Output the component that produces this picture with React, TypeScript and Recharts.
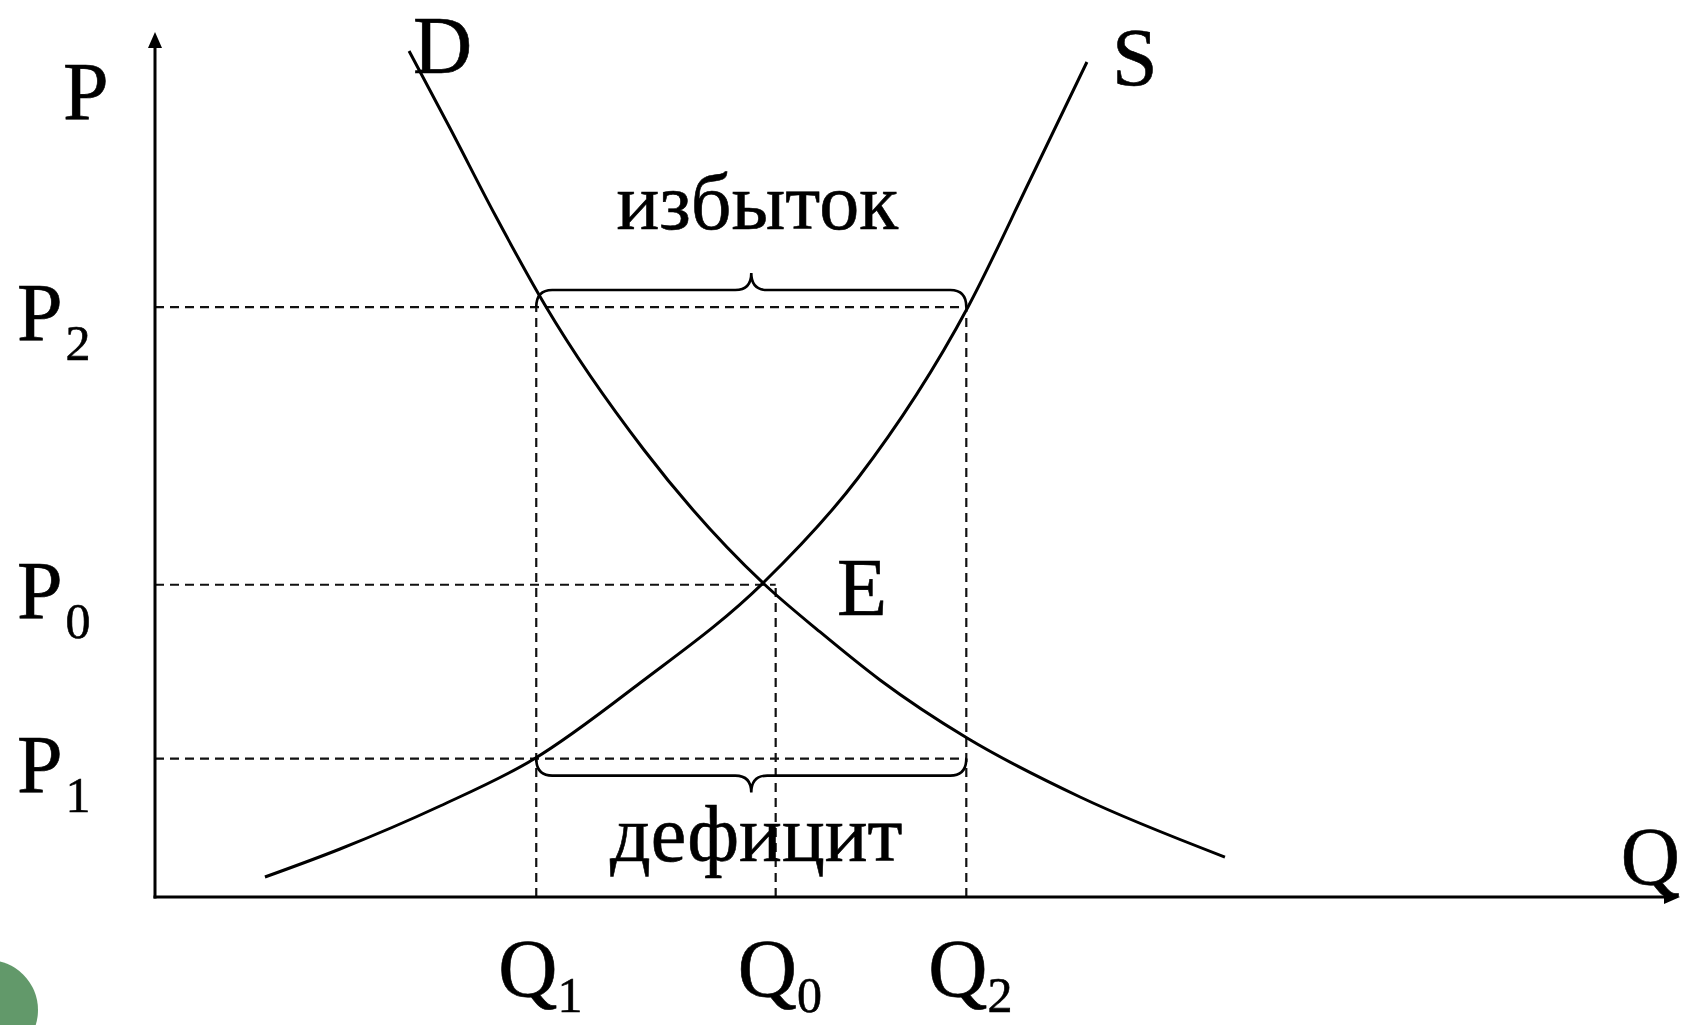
import React from 'react';
import { ComposedChart, Line, XAxis, YAxis, ReferenceLine, ReferenceDot } from 'recharts';

// Demand curve D (quantity, price)
const demandQ = [16.66, 19.34, 22.3, 25.57, 32.07, 39.87, 43.61, 47.54, 53.25, 60.66, 70.16];
const demandP = [97.8, 88.9, 78.84, 68.44, 51.68, 36.3, 30.64, 25.09, 18.38, 11.56, 4.62];

// Supply curve S (quantity, price)
const supplyQ = [7.21, 12.13, 18.69, 24.85, 31.8, 39.87, 46.1, 53.31, 57.38, 61.11];
const supplyP = [2.31, 5.55, 10.52, 15.95, 24.74, 36.3, 48.44, 68.21, 82.89, 96.53];

// Axis marks
const qTicks = [25, 40.7, 53.2]; // Q1, Q0, Q2
const qTickSubs = ['1', '0', '2'];
const pTicks = [16, 36.1, 68.2]; // P1, P0, P2
const pTickSubs = ['1', '0', '2'];

const [Q1, Q0, Q2] = qTicks;
const [P1, P0, P2] = pTicks;

const demandData = demandQ.map((q, i) => ({ q, p: demandP[i] }));
const supplyData = supplyQ.map((q, i) => ({ q, p: supplyP[i] }));

const FONT = '"Liberation Serif", "Times New Roman", serif';
const BIG = 82;
const SUB = 50;
const TXT_STROKE = 0.6;

const PTick = (props: any) => {
  const { x, y, payload, index } = props;
  let i = pTicks.indexOf(payload.value);
  if (i < 0) i = index;
  return (
    <text x={x - 138} y={y + 33} fontFamily={FONT} fontSize={BIG} fill="#000" stroke="#000" strokeWidth={TXT_STROKE}>
      P
      <tspan dx={3} dy={20} fontSize={SUB}>{pTickSubs[i]}</tspan>
    </text>
  );
};

const QTick = (props: any) => {
  const { x, y, payload, index } = props;
  let i = qTicks.indexOf(payload.value);
  if (i < 0) i = index;
  return (
    <text x={x - 38} y={y + 99} fontFamily={FONT} fontSize={BIG} fill="#000" stroke="#000" strokeWidth={TXT_STROKE}>
      Q
      <tspan dx={0} dy={16} fontSize={SUB}>{qTickSubs[i]}</tspan>
    </text>
  );
};

const ArrowAxis = (props: any) => {
  const { x1, y1, x2, y2 } = props;
  const len = Math.hypot(x2 - x1, y2 - y1) || 1;
  const ux = (x2 - x1) / len;
  const uy = (y2 - y1) / len;
  const L = 16;
  const W = 7;
  const bx = x2 - ux * L;
  const by = y2 - uy * L;
  const px = -uy;
  const py = ux;
  return (
    <g>
      <line x1={x1 - ux * 1.5} y1={y1 - uy * 1.5} x2={bx} y2={by} stroke="#000" strokeWidth={3} />
      <polygon
        points={`${x2},${y2} ${bx + px * W},${by + py * W} ${bx - px * W},${by - py * W}`}
        fill="#000"
      />
    </g>
  );
};

const makeBrace = (dir: number) => (props: any) => {
  const { x1, y1, x2 } = props;
  const y = y1;
  const d1 = 17 * dir;
  const d2 = 34 * dir;
  const mid = (x1 + x2) / 2;
  const r = 16;
  const d = `M${x1},${y} Q${x1},${y + d1} ${x1 + r},${y + d1} L${mid - r},${y + d1} Q${mid},${y + d1} ${mid},${y + d2} Q${mid},${y + d1} ${mid + r},${y + d1} L${x2 - r},${y + d1} Q${x2},${y + d1} ${x2},${y}`;
  return <path d={d} fill="none" stroke="#000" strokeWidth={2.6} />;
};

const textShape = (label: string, dx: number, dy: number, anchor: string = 'start', size: number = BIG) => (props: any) => {
  const { cx, cy } = props;
  return (
    <text
      x={cx + dx}
      y={cy + dy}
      textAnchor={anchor}
      fontFamily={FONT}
      fontSize={size}
      fill="#000"
      stroke="#000"
      strokeWidth={TXT_STROKE}
    >
      {label}
    </text>
  );
};

const dashed = { stroke: '#111', strokeWidth: 2.2, strokeDasharray: '9 6' };

export default function App() {
  const midQ = (Q1 + Q2) / 2;
  return (
    <div style={{ position: 'absolute', left: 0, top: 0, width: 1682, height: 1025, background: '#fff', overflow: 'hidden' }}>
      <ComposedChart width={1682} height={1025} margin={{ top: 32, right: 2, bottom: 0, left: 0 }}>
        <XAxis
          type="number"
          dataKey="q"
          domain={[0, 100]}
          ticks={qTicks}
          interval={0}
          axisLine={false}
          tickLine={false}
          tickSize={0}
          tickMargin={0}
          height={128}
          tick={<QTick />}
          allowDataOverflow
        />
        <YAxis
          type="number"
          dataKey="p"
          domain={[0, 100]}
          ticks={pTicks}
          interval={0}
          axisLine={false}
          tickLine={false}
          tickSize={0}
          tickMargin={0}
          width={155}
          tick={<PTick />}
          allowDataOverflow
        />

        {/* dashed guides */}
        <ReferenceLine segment={[{ x: 0, y: P2 }, { x: Q2, y: P2 }]} {...dashed} />
        <ReferenceLine segment={[{ x: 0, y: P0 }, { x: Q0, y: P0 }]} {...dashed} />
        <ReferenceLine segment={[{ x: 0, y: P1 }, { x: Q2, y: P1 }]} {...dashed} />
        <ReferenceLine segment={[{ x: Q1, y: 0 }, { x: Q1, y: P2 }]} {...dashed} />
        <ReferenceLine segment={[{ x: Q0, y: 0 }, { x: Q0, y: P0 }]} {...dashed} />
        <ReferenceLine segment={[{ x: Q2, y: 0 }, { x: Q2, y: P2 }]} {...dashed} />

        {/* braces */}
        <ReferenceLine segment={[{ x: Q1, y: P2 }, { x: Q2, y: P2 }]} shape={makeBrace(-1)} />
        <ReferenceLine segment={[{ x: Q1, y: P1 }, { x: Q2, y: P1 }]} shape={makeBrace(1)} />

        <Line
          data={demandData}
          dataKey="p"
          type="monotone"
          stroke="#000"
          strokeWidth={3}
          dot={false}
          activeDot={false}
          isAnimationActive={false}
        />
        <Line
          data={supplyData}
          dataKey="p"
          type="monotone"
          stroke="#000"
          strokeWidth={3}
          dot={false}
          activeDot={false}
          isAnimationActive={false}
        />

        {/* axes with arrows */}
        <ReferenceLine segment={[{ x: 0, y: 0 }, { x: 100, y: 0 }]} shape={ArrowAxis} />
        <ReferenceLine segment={[{ x: 0, y: 0 }, { x: 0, y: 100 }]} shape={ArrowAxis} />

        {/* labels */}
        <ReferenceDot x={0} y={100} r={0} shape={textShape('P', -92, 87)} />
        <ReferenceDot x={100} y={0} r={0} shape={textShape('Q', 0, -13, 'end')} />
        <ReferenceDot x={demandQ[0]} y={demandP[0]} r={0} shape={textShape('D', 4, 22)} />
        <ReferenceDot
          x={supplyQ[supplyQ.length - 1]}
          y={supplyP[supplyP.length - 1]}
          r={0}
          shape={textShape('S', 25, 23)}
        />
        <ReferenceDot x={demandQ[5]} y={demandP[5]} r={0} shape={textShape('E', 74, 32)} />
        <ReferenceDot x={midQ} y={P2} r={0} shape={textShape('избыток', 6, -78, 'middle', 80)} />
        <ReferenceDot x={midQ} y={P1} r={0} shape={textShape('дефицит', 5, 102, 'middle', 80)} />
      </ComposedChart>
      <div
        style={{
          position: 'absolute',
          left: -62,
          top: 960,
          width: 100,
          height: 100,
          borderRadius: '50%',
          background: '#62996a',
        }}
      />
    </div>
  );
}
